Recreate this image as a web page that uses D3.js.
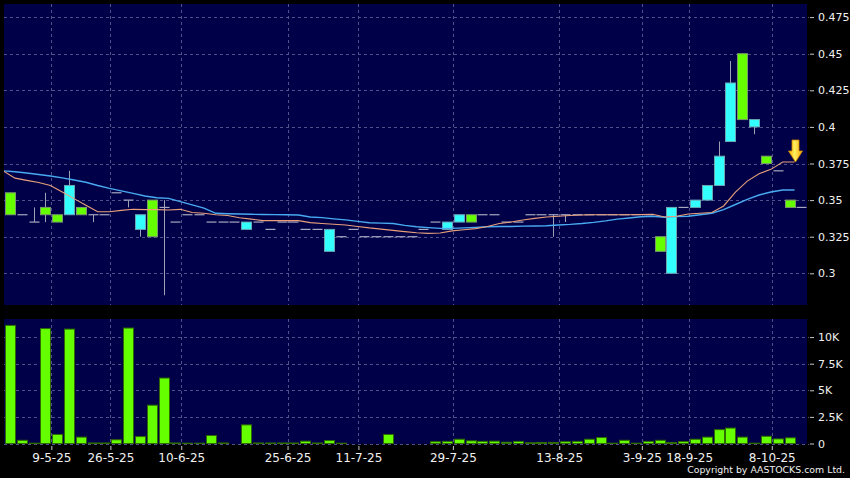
<!DOCTYPE html>
<html><head><meta charset="utf-8">
<script src="https://cdn.jsdelivr.net/npm/d3@7"></script>
<style>
body{margin:0;background:#000;}
svg{display:block;font-family:'DejaVu Sans',sans-serif;}
</style>
</head><body>
<svg id="c" width="850" height="478"></svg>
<script>
// ---- data (index 0..67, one entry per candle) ----
const openP  = [.355,.34,.335,.345,.34,.34,.345,.34,.34,.355,.35,.33,.35,.345,.335,.34,.34,.335,.335,.335,.33,.335,.33,.335,.335,.33,.33,.315,.325,.33,.325,.325,.325,.325,.325,.33,.335,.33,.335,.34,.34,.34,.335,.335,.34,.34,.34,.34,.34,.34,.34,.34,.34,.34,.34,.325,.30,.345,.345,.35,.36,.39,.45,.40,.38,.37,.35,.345];
const highP  = [.355,.34,.345,.355,.34,.37,.345,.34,.34,.355,.35,.34,.35,.35,.335,.34,.34,.335,.335,.335,.335,.335,.33,.335,.335,.33,.33,.33,.325,.33,.325,.325,.325,.325,.325,.33,.335,.335,.34,.34,.34,.34,.335,.335,.34,.34,.34,.34,.34,.34,.34,.34,.34,.34,.34,.325,.345,.345,.35,.36,.39,.445,.45,.405,.38,.37,.35,.345];
const lowP   = [.34,.34,.335,.335,.335,.34,.34,.335,.34,.355,.345,.325,.325,.285,.335,.34,.34,.335,.335,.335,.33,.335,.33,.335,.335,.33,.33,.315,.325,.33,.325,.325,.325,.325,.325,.33,.335,.33,.335,.335,.34,.34,.335,.335,.34,.34,.325,.335,.34,.34,.34,.34,.34,.34,.34,.315,.30,.345,.345,.35,.36,.39,.405,.395,.375,.37,.345,.345];
const closeP = [.34,.34,.335,.34,.335,.36,.34,.34,.34,.355,.35,.34,.325,.345,.335,.34,.34,.335,.335,.335,.335,.335,.33,.335,.335,.33,.33,.33,.325,.33,.325,.325,.325,.325,.325,.33,.335,.335,.34,.335,.34,.34,.335,.335,.34,.34,.34,.34,.34,.34,.34,.34,.34,.34,.34,.315,.345,.345,.35,.36,.38,.43,.405,.405,.375,.37,.345,.345];
// volume in thousands
const volumeK = [11.1,0.3,0.03,10.8,0.85,10.75,0.6,0.05,0.05,0.35,10.85,0.65,3.6,6.15,0.05,0.03,0.03,0.75,0.05,0,1.75,0.05,0.05,0.05,0.05,0.22,0.05,0.28,0.03,0,0,0,0.85,0,0,0,0.17,0.2,0.4,0.25,0.2,0.22,0.12,0.2,0.07,0.1,0.1,0.17,0.2,0.4,0.56,0.03,0.3,0.03,0.2,0.3,0.1,0.18,0.4,0.6,1.3,1.45,0.6,0.03,0.68,0.43,0.53,0];
// moving averages, index -1..66
const maFast = [0.370,0.365,0.3635,0.362,0.360,0.3556,0.351,0.3465,0.342,0.342,0.343,0.3437,0.3435,0.3435,0.3432,0.3437,0.3415,0.341,0.340,0.3395,0.338,0.337,0.336,0.336,0.336,0.336,0.3346,0.334,0.3335,0.333,0.332,0.331,0.3302,0.3293,0.3285,0.3277,0.3273,0.3275,0.329,0.3297,0.3305,0.332,0.334,0.335,0.3364,0.3375,0.3385,0.339,0.3395,0.3398,0.34,0.34,0.34,0.34,0.3402,0.3403,0.3385,0.339,0.3405,0.341,0.3415,0.346,0.3555,0.363,0.368,0.371,0.376,0.376];
const maSlow = [0.370,0.3694,0.3685,0.3675,0.3665,0.3652,0.3637,0.3622,0.360,0.358,0.3563,0.3546,0.3528,0.3516,0.3512,0.349,0.3467,0.3445,0.341,0.3407,0.3405,0.3403,0.3402,0.3401,0.34,0.3398,0.3385,0.338,0.3372,0.3365,0.3355,0.3345,0.3343,0.334,0.3327,0.3318,0.3312,0.3307,0.3307,0.331,0.3314,0.3318,0.332,0.332,0.3322,0.3323,0.3325,0.333,0.3334,0.334,0.3348,0.3358,0.337,0.3378,0.3386,0.339,0.3383,0.3387,0.339,0.34,0.341,0.3435,0.347,0.3505,0.3535,0.3555,0.3569,0.3569];
const dateLabels = ['9-5-25','26-5-25','10-6-25','25-6-25','11-7-25','29-7-25','13-8-25','3-9-25','18-9-25','8-10-25'];
const dateIndex  = [4,9,15,24,30,38,47,54,58,65];
const priceTicks = [0.3,0.325,0.35,0.375,0.4,0.425,0.45,0.475];
const priceTickLabels = ['0.3','0.325','0.35','0.375','0.4','0.425','0.45','0.475'];
const volTicks = [0,2.5,5,7.5,10];
const volTickLabels = ['0','2.5K','5K','7.5K','10K'];

// ---- layout ----
const svg = d3.select('#c');
const L = 4, R = 807;
const pTop = 4, pBot = 305, vTop = 319, vBot = 444;
const BG = '#000048', GRID = '#50508a';
const bodyW = 10;

const x = d3.scaleLinear().domain([0, 66]).range([10, 789.5]);
const yP = d3.scaleLinear().domain([0.27835, 0.48395]).range([pBot, pTop]);
const yV = d3.scaleLinear().domain([0, 11.7]).range([443.5, vTop]);

svg.append('rect').attr('width',850).attr('height',478).attr('fill','#000');
svg.append('rect').attr('x',L).attr('y',pTop).attr('width',R-L).attr('height',pBot-pTop).attr('fill',BG);
svg.append('rect').attr('x',L).attr('y',vTop).attr('width',R-L).attr('height',vBot-vTop).attr('fill',BG);

const defs = svg.append('defs');
defs.append('clipPath').attr('id','cp').append('rect').attr('x',L).attr('y',pTop).attr('width',R-L).attr('height',pBot-pTop);
defs.append('clipPath').attr('id','cv').append('rect').attr('x',L).attr('y',vTop).attr('width',R-L).attr('height',vBot-vTop);

// grids
const gx = dateIndex.map(i => x(i - 0.5));
const gp = svg.append('g').attr('stroke',GRID).attr('stroke-dasharray','3,3').attr('stroke-width',1);
priceTicks.forEach(v => gp.append('line').attr('x1',L).attr('x2',R+2).attr('y1',Math.round(yP(v))+0.5).attr('y2',Math.round(yP(v))+0.5));
gx.forEach(px => gp.append('line').attr('x1',Math.round(px)+0.5).attr('x2',Math.round(px)+0.5).attr('y1',pTop).attr('y2',pBot));
const gv = svg.append('g').attr('stroke',GRID).attr('stroke-dasharray','3,3').attr('stroke-width',1);
volTicks.forEach(v => gv.append('line').attr('x1',L).attr('x2',R+2).attr('y1',Math.round(yV(v))+0.5).attr('y2',Math.round(yV(v))+0.5));
gx.forEach(px => gv.append('line').attr('x1',Math.round(px)+0.5).attr('x2',Math.round(px)+0.5).attr('y1',vTop).attr('y2',vBot));

// candles
const cg = svg.append('g').attr('clip-path','url(#cp)');
const idx = d3.range(openP.length);
idx.forEach(i => {
  const cx = Math.round(x(i)) + 0.5;
  const o = openP[i], c = closeP[i], h = highP[i], l = lowP[i];
  cg.append('line').attr('x1',cx).attr('x2',cx).attr('y1',yP(h)).attr('y2',yP(l)).attr('stroke','#a0a0b4').attr('stroke-width',1);
  if (o === c) {
    cg.append('line').attr('x1',cx-bodyW/2).attr('x2',cx+bodyW/2).attr('y1',yP(c)).attr('y2',yP(c))
      .attr('stroke','#a8a8c0').attr('stroke-width',1.2);
  } else {
    const up = c > o;
    cg.append('rect').attr('x',cx-bodyW/2).attr('width',bodyW)
      .attr('y',yP(Math.max(o,c))).attr('height',Math.abs(yP(o)-yP(c)))
      .attr('fill', up ? '#33FFFF' : '#66FF00')
      .attr('stroke', up ? '#6aa6b4' : '#7a9a6a').attr('stroke-width',1);
  }
});

// moving averages (drawn at candle right edge)
const maLine = d3.line().x((d,k) => x(k-1) + bodyW/2).y(d => yP(d));
cg.append('path').datum(maSlow).attr('d',maLine).attr('fill','none').attr('stroke','#48aaf0').attr('stroke-width',1.4);
cg.append('path').datum(maFast).attr('d',maLine).attr('fill','none').attr('stroke','#e8a07a').attr('stroke-width',1.1);

// arrow at last fast MA
const lastK = maFast.length - 1;
const ax = x(lastK-1) + bodyW/2 + 1, ay = yP(maFast[lastK]);
const grad = defs.append('linearGradient').attr('id','ag').attr('x1',0).attr('x2',1).attr('y1',0).attr('y2',0);
grad.append('stop').attr('offset','0%').attr('stop-color','#ffb000');
grad.append('stop').attr('offset','45%').attr('stop-color','#fff060');
grad.append('stop').attr('offset','100%').attr('stop-color','#ffa000');
svg.append('path')
  .attr('d',`M${ax-3.5},${ay-22} L${ax+3.5},${ay-22} L${ax+3.5},${ay-11} L${ax+7},${ay-11} L${ax},${ay} L${ax-7},${ay-11} L${ax-3.5},${ay-11} Z`)
  .attr('fill','url(#ag)').attr('stroke','#d08a00').attr('stroke-width',0.8);

// volume bars
const vg = svg.append('g').attr('clip-path','url(#cv)');
idx.forEach(i => {
  if (volumeK[i] <= 0) return;
  const cx = Math.round(x(i)) + 0.5;
  const top = yV(volumeK[i]);
  vg.append('rect').attr('x',cx-bodyW/2).attr('width',bodyW).attr('y',top).attr('height',Math.max(0.5, yV(0)-top))
    .attr('fill','#66FF00').attr('stroke','#2e6a00').attr('stroke-width',1);
});

// axes
const axP = d3.axisRight(yP).tickValues(priceTicks).tickFormat((d,k)=>priceTickLabels[k]).tickSize(4).tickPadding(4);
const gaP = svg.append('g').attr('transform',`translate(${R+3},0)`).call(axP);
const axV = d3.axisRight(yV).tickValues(volTicks).tickFormat((d,k)=>volTickLabels[k]).tickSize(4).tickPadding(4);
const gaV = svg.append('g').attr('transform',`translate(${R+3},0)`).call(axV);
[gaP,gaV].forEach(g => {
  g.select('.domain').remove();
  g.selectAll('line').attr('stroke','#c8c8c8');
  g.selectAll('text').attr('fill','#f0f0f0').attr('font-size',11).attr('font-family','DejaVu Sans');
});
const axX = d3.axisBottom(d3.scaleLinear().domain([0,850]).range([0,850])).tickValues(gx).tickFormat((d,k)=>dateLabels[k]).tickSize(4).tickPadding(3);
const gaX = svg.append('g').attr('transform',`translate(0,${vBot+2})`).call(axX);
gaX.select('.domain').remove();
gaX.selectAll('line').attr('stroke','#c8c8c8');
gaX.selectAll('text').attr('fill','#f0f0f0').attr('font-size',12).attr('font-family','DejaVu Sans');

svg.append('text').attr('x',845).attr('y',473).attr('text-anchor','end').attr('fill','#f0f0f0')
  .attr('font-size',9.4).attr('font-family','DejaVu Sans')
  .text('Copyright by AASTOCKS.com Ltd.');
</script>
</body></html>
